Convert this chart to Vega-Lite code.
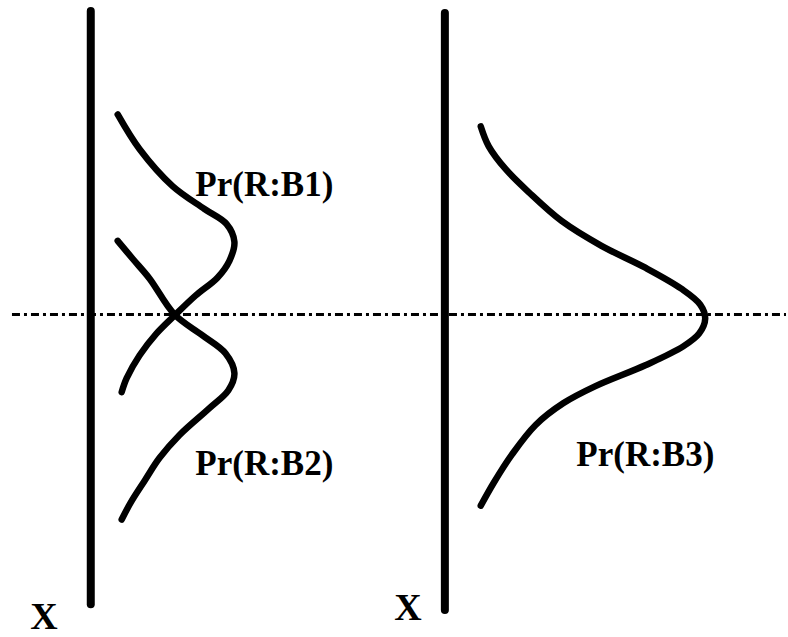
{
  "$schema": "https://vega.github.io/schema/vega-lite/v6.json",
  "autosize": {"type": "fit", "contains": "padding"},
  "width": 788,
  "height": 637,
  "padding": 0,
  "background": "white",
  "config": {"view": {"stroke": null}},
  "datasets": {
    "curves": [
      {"s": "B1", "o": 0, "x": 118, "y": 115},
      {"s": "B1", "o": 1, "x": 140, "y": 150},
      {"s": "B1", "o": 2, "x": 173, "y": 187},
      {"s": "B1", "o": 3, "x": 205, "y": 210},
      {"s": "B1", "o": 4, "x": 227, "y": 225},
      {"s": "B1", "o": 5, "x": 235, "y": 243},
      {"s": "B1", "o": 6, "x": 230, "y": 262},
      {"s": "B1", "o": 7, "x": 218, "y": 279},
      {"s": "B1", "o": 8, "x": 196, "y": 297},
      {"s": "B1", "o": 9, "x": 175, "y": 317},
      {"s": "B1", "o": 10, "x": 157, "y": 335},
      {"s": "B1", "o": 11, "x": 140, "y": 357},
      {"s": "B1", "o": 12, "x": 127, "y": 380},
      {"s": "B1", "o": 13, "x": 122, "y": 394},
      {"s": "B2", "o": 0, "x": 118, "y": 242},
      {"s": "B2", "o": 1, "x": 133, "y": 260},
      {"s": "B2", "o": 2, "x": 150, "y": 280},
      {"s": "B2", "o": 3, "x": 175, "y": 316},
      {"s": "B2", "o": 4, "x": 203, "y": 337},
      {"s": "B2", "o": 5, "x": 226, "y": 355},
      {"s": "B2", "o": 6, "x": 235, "y": 375},
      {"s": "B2", "o": 7, "x": 229, "y": 392},
      {"s": "B2", "o": 8, "x": 210, "y": 410},
      {"s": "B2", "o": 9, "x": 180, "y": 437},
      {"s": "B2", "o": 10, "x": 160, "y": 460},
      {"s": "B2", "o": 11, "x": 145, "y": 483},
      {"s": "B2", "o": 12, "x": 131, "y": 505},
      {"s": "B2", "o": 13, "x": 122, "y": 522},
      {"s": "B3", "o": 0, "x": 482, "y": 127},
      {"s": "B3", "o": 1, "x": 490, "y": 147},
      {"s": "B3", "o": 2, "x": 507, "y": 170},
      {"s": "B3", "o": 3, "x": 530, "y": 193},
      {"s": "B3", "o": 4, "x": 563, "y": 222},
      {"s": "B3", "o": 5, "x": 603, "y": 247},
      {"s": "B3", "o": 6, "x": 647, "y": 269},
      {"s": "B3", "o": 7, "x": 683, "y": 290},
      {"s": "B3", "o": 8, "x": 702, "y": 306},
      {"s": "B3", "o": 9, "x": 707, "y": 320},
      {"s": "B3", "o": 10, "x": 701, "y": 335},
      {"s": "B3", "o": 11, "x": 685, "y": 348},
      {"s": "B3", "o": 12, "x": 647, "y": 367},
      {"s": "B3", "o": 13, "x": 597, "y": 388},
      {"s": "B3", "o": 14, "x": 565, "y": 405},
      {"s": "B3", "o": 15, "x": 537, "y": 427},
      {"s": "B3", "o": 16, "x": 513, "y": 457},
      {"s": "B3", "o": 17, "x": 495, "y": 485},
      {"s": "B3", "o": 18, "x": 482, "y": 508}
    ],
    "bars": [
      {"x": 91, "y": 11, "y2": 607},
      {"x": 446, "y": 13, "y2": 613}
    ],
    "labels": [
      {"t": "Pr(R:B1)", "x": 265, "y": 186, "size": 35},
      {"t": "Pr(R:B2)", "x": 265, "y": 466, "size": 35},
      {"t": "Pr(R:B3)", "x": 647, "y": 457, "size": 35},
      {"t": "X", "x": 44, "y": 621, "size": 38},
      {"t": "X", "x": 409, "y": 612, "size": 38}
    ],
    "hline": [{"y": 316, "x": 12, "x2": 788}]
  },
  "layer": [
    {
      "data": {"name": "hline"},
      "mark": {"type": "rule", "strokeWidth": 3, "strokeDash": [8, 4, 3, 4], "color": "black"},
      "encoding": {
        "x": {"field": "x", "type": "quantitative", "scale": {"domain": [0, 788], "nice": false, "zero": false}, "axis": null},
        "x2": {"field": "x2"},
        "y": {"field": "y", "type": "quantitative", "scale": {"domain": [0, 637], "nice": false, "zero": false, "reverse": true}, "axis": null}
      }
    },
    {
      "data": {"name": "bars"},
      "mark": {"type": "rule", "strokeWidth": 8, "strokeCap": "round", "color": "black"},
      "encoding": {
        "x": {"field": "x", "type": "quantitative"},
        "y": {"field": "y", "type": "quantitative"},
        "y2": {"field": "y2"}
      }
    },
    {
      "data": {"name": "curves"},
      "mark": {"type": "line", "strokeWidth": 6.5, "strokeCap": "round", "strokeJoin": "round", "interpolate": "catmull-rom", "color": "black"},
      "encoding": {
        "x": {"field": "x", "type": "quantitative"},
        "y": {"field": "y", "type": "quantitative"},
        "detail": {"field": "s"},
        "order": {"field": "o", "type": "quantitative"}
      }
    },
    {
      "data": {"name": "labels"},
      "mark": {"type": "text", "font": "Liberation Serif", "fontWeight": "bold", "color": "black", "align": "center", "baseline": "middle"},
      "encoding": {
        "x": {"field": "x", "type": "quantitative"},
        "y": {"field": "y", "type": "quantitative"},
        "text": {"field": "t"},
        "size": {"field": "size", "type": "quantitative", "scale": null, "legend": null}
      }
    }
  ]
}
